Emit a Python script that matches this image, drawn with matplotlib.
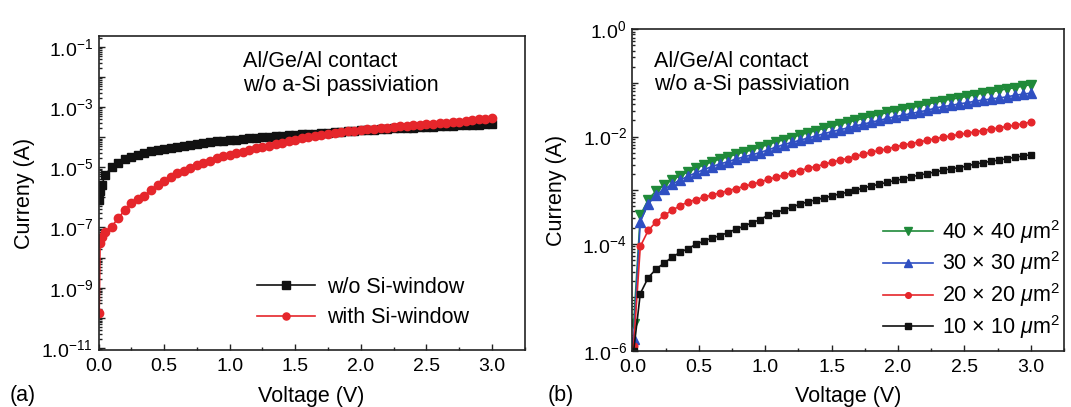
import numpy as np
import matplotlib
matplotlib.use("Agg")
import matplotlib.pyplot as plt
from matplotlib.ticker import FixedLocator, FuncFormatter, LogLocator, MultipleLocator

plt.rcParams["font.family"] = ["Liberation Sans", "DejaVu Sans"]
plt.rcParams["mathtext.fontset"] = "custom"
plt.rcParams["mathtext.rm"] = "Liberation Sans"
plt.rcParams["mathtext.it"] = "Liberation Sans:italic"
plt.rcParams["axes.unicode_minus"] = True

# ---- (a) Al/Ge/Al contact, with and without Si window ----
volt_a = [0.005, 0.012, 0.025, 0.05, 0.10, 0.15, 0.20, 0.25, 0.30, 0.35, 0.40, 0.45,
          0.50, 0.55, 0.60, 0.65, 0.70, 0.75, 0.80, 0.85, 0.90, 0.95, 1.00, 1.05,
          1.10, 1.15, 1.20, 1.25, 1.30, 1.35, 1.40, 1.45, 1.50, 1.55, 1.60, 1.65,
          1.70, 1.75, 1.80, 1.85, 1.90, 1.95, 2.00, 2.05, 2.10, 2.15, 2.20, 2.25,
          2.30, 2.35, 2.40, 2.45, 2.50, 2.55, 2.60, 2.65, 2.70, 2.75, 2.80, 2.85,
          2.90, 2.95, 3.00]
# log10 of current (A)
logi_no_window = [-6.10, -5.80, -5.60, -5.25, -5.00, -4.85, -4.74, -4.65, -4.58, -4.52,
                  -4.46, -4.41, -4.38, -4.35, -4.31, -4.28, -4.25, -4.23, -4.20, -4.17,
                  -4.14, -4.12, -4.10, -4.08, -4.06, -4.04, -4.02, -4.01, -3.99, -3.97,
                  -3.96, -3.94, -3.93, -3.91, -3.90, -3.88, -3.87, -3.86, -3.84, -3.82,
                  -3.80, -3.78, -3.77, -3.76, -3.75, -3.74, -3.72, -3.71, -3.70, -3.69,
                  -3.68, -3.67, -3.66, -3.65, -3.64, -3.63, -3.62, -3.61, -3.60, -3.59,
                  -3.58, -3.57, -3.56]
logi_window = [-9.85, -7.50, -7.30, -7.15, -6.97, -6.69, -6.42, -6.19, -6.05, -5.95,
               -5.76, -5.60, -5.47, -5.33, -5.20, -5.11, -5.03, -4.94, -4.86, -4.78,
               -4.70, -4.64, -4.59, -4.53, -4.48, -4.42, -4.37, -4.32, -4.28, -4.23,
               -4.18, -4.13, -4.09, -4.04, -4.00, -3.96, -3.92, -3.89, -3.87, -3.84,
               -3.81, -3.78, -3.76, -3.74, -3.72, -3.70, -3.68, -3.66, -3.64, -3.62,
               -3.60, -3.59, -3.57, -3.56, -3.54, -3.52, -3.50, -3.48, -3.45, -3.43,
               -3.41, -3.39, -3.37]

# ---- (b) contact size series ----
volt_b = [0.01, 0.06, 0.12, 0.18, 0.24, 0.30, 0.36, 0.42, 0.48, 0.54, 0.60, 0.66,
          0.72, 0.78, 0.84, 0.90, 0.96, 1.02, 1.08, 1.14, 1.20, 1.26, 1.32, 1.38,
          1.44, 1.50, 1.56, 1.62, 1.68, 1.74, 1.80, 1.86, 1.92, 1.98, 2.04, 2.10,
          2.16, 2.22, 2.28, 2.34, 2.40, 2.46, 2.52, 2.58, 2.64, 2.70, 2.76, 2.82,
          2.88, 2.94, 3.00]
logi_40 = [-5.50, -3.47, -3.175, -3.01, -2.90, -2.81, -2.73, -2.66, -2.59, -2.53,
           -2.47, -2.42, -2.38, -2.33, -2.29, -2.25, -2.20, -2.15, -2.10, -2.06,
           -2.02, -1.97, -1.93, -1.89, -1.85, -1.81, -1.77, -1.73, -1.70, -1.66,
           -1.62, -1.59, -1.55, -1.52, -1.49, -1.46, -1.43, -1.40, -1.36, -1.33,
           -1.30, -1.28, -1.25, -1.22, -1.19, -1.17, -1.14, -1.11, -1.09, -1.06,
           -1.03]
logi_30 = [-5.77, -3.59, -3.25, -3.09, -2.98, -2.89, -2.81, -2.74, -2.675, -2.615,
           -2.56, -2.51, -2.47, -2.42, -2.38, -2.34, -2.30, -2.25, -2.20, -2.15,
           -2.11, -2.07, -2.03, -1.99, -1.95, -1.91, -1.875, -1.84, -1.80, -1.77,
           -1.73, -1.70, -1.66, -1.63, -1.60, -1.57, -1.54, -1.51, -1.47, -1.44,
           -1.42, -1.39, -1.37, -1.34, -1.32, -1.30, -1.28, -1.26, -1.23, -1.21,
           -1.19]
logi_20 = [-5.90, -4.05, -3.75, -3.59, -3.47, -3.375, -3.29, -3.22, -3.175, -3.13,
           -3.09, -3.05, -3.01, -2.97, -2.93, -2.89, -2.85, -2.80, -2.76, -2.72,
           -2.68, -2.64, -2.59, -2.56, -2.52, -2.48, -2.44, -2.41, -2.37, -2.33,
           -2.29, -2.26, -2.23, -2.19, -2.16, -2.13, -2.10, -2.07, -2.04, -2.01,
           -1.99, -1.96, -1.94, -1.91, -1.89, -1.86, -1.84, -1.81, -1.79, -1.76,
           -1.73]
logi_10 = [-6.00, -4.93, -4.63, -4.47, -4.36, -4.25, -4.16, -4.09, -4.01, -3.95,
           -3.89, -3.85, -3.79, -3.73, -3.67, -3.61, -3.55, -3.47, -3.42, -3.37,
           -3.32, -3.26, -3.22, -3.18, -3.15, -3.11, -3.07, -3.04, -3.00, -2.96,
           -2.92, -2.89, -2.85, -2.82, -2.79, -2.75, -2.72, -2.69, -2.66, -2.63,
           -2.60, -2.58, -2.55, -2.51, -2.49, -2.46, -2.44, -2.41, -2.39, -2.36,
           -2.34]

size_labels = [r"40 $\times$ 40 $\mu$m$^2$", r"30 $\times$ 30 $\mu$m$^2$",
               r"20 $\times$ 20 $\mu$m$^2$", r"10 $\times$ 10 $\mu$m$^2$"]
size_colors = ["#1f8a3a", "#2f4fc2", "#e5262b", "#111111"]
size_markers = ["v", "^", "o", "s"]
size_msizes = [7, 7, 4.8, 5]

BLACK = "#111111"
RED = "#e5262b"
FS = 15.5


def decade_label(y, pos, keep):
    e = int(round(np.log10(y)))
    if e % 2 != keep:
        return ""
    return "1.0$^{%d}$" % e


def style_axes(ax, ylim, keep, label_x, label_y):
    ax.set_yscale("log")
    ax.set_xlim(0, 3.25)
    ax.set_ylim(*ylim)
    lo = int(np.floor(np.log10(ylim[0])))
    hi = int(np.ceil(np.log10(ylim[1])))
    ax.yaxis.set_major_locator(FixedLocator([10.0 ** e for e in range(lo, hi + 1)]))
    ax.yaxis.set_major_formatter(FuncFormatter(lambda y, p: decade_label(y, p, keep)))
    ax.yaxis.set_minor_locator(LogLocator(base=10, subs=np.arange(2, 10), numticks=50))
    ax.xaxis.set_major_locator(FixedLocator([0, 0.5, 1.0, 1.5, 2.0, 2.5, 3.0]))
    ax.xaxis.set_major_formatter(FuncFormatter(lambda x, p: "%.1f" % x))
    ax.xaxis.set_minor_locator(MultipleLocator(0.25))
    ax.tick_params(which="both", direction="in", top=False, right=False,
                   labelsize=14, width=1.0, color="#222222")
    ax.tick_params(which="major", length=4.5)
    ax.tick_params(which="minor", length=2.5)
    ax.tick_params(axis="x", pad=5.5)
    ax.tick_params(axis="y", pad=4)
    for s in ax.spines.values():
        s.set_linewidth(1.2)
        s.set_color("#222222")
    ax.set_xlabel("Voltage (V)", fontsize=FS)
    ax.set_ylabel("Curreny (A)", fontsize=FS)
    ax.xaxis.set_label_coords(0.5, label_y)
    ax.yaxis.set_label_coords(label_x, 0.5)


fig = plt.figure(figsize=(10.71, 4.07), dpi=100)
ax_a = fig.add_axes([0.092, 0.140, 0.398, 0.7715])
ax_b = fig.add_axes([0.5904, 0.1376, 0.4031, 0.7904])

# (a)
va = np.array(volt_a)
ax_a.plot(va, 10.0 ** np.array(logi_no_window), color=BLACK, marker="s", ms=6,
          lw=1.2, label="w/o Si-window")
ax_a.plot(va, 10.0 ** np.array(logi_window), color=RED, marker="o", ms=6,
          lw=1.2, label="with Si-window")
style_axes(ax_a, (10 ** -11.07, 10 ** -0.64), keep=1, label_x=-0.149, label_y=-0.113)
ax_a.text(0.339, 0.88, "Al/Ge/Al contact\nw/o a-Si passiviation", transform=ax_a.transAxes,
          fontsize=FS, ha="left", va="center", linespacing=1.15)
ax_a.legend(loc="center left", bbox_to_anchor=(0.372, 0.151), frameon=False,
            fontsize=FS, numpoints=1, handlelength=2.7, handletextpad=0.55,
            labelspacing=0.45, borderpad=0, borderaxespad=0, markerscale=0.85)

# (b)
vb = np.array(volt_b)
series_b = [logi_40, logi_30, logi_20, logi_10]
for vals, lab, c, m, ms in zip(series_b, size_labels, size_colors, size_markers, size_msizes):
    ax_b.plot(vb, 10.0 ** np.array(vals), color=c, marker=m, ms=ms, lw=1.2, label=lab)
style_axes(ax_b, (1e-6, 1.0), keep=0, label_x=-0.151, label_y=-0.108)
ax_b.text(0.05, 0.864, "Al/Ge/Al contact\nw/o a-Si passiviation", transform=ax_b.transAxes,
          fontsize=FS, ha="left", va="center", linespacing=1.15)
ax_b.legend(loc="center left", bbox_to_anchor=(0.5807, 0.2226), frameon=False,
            fontsize=FS, numpoints=1, handlelength=2.3, handletextpad=0.45,
            labelspacing=0.18, borderpad=0, borderaxespad=0, markerscale=0.85)

fig.text(10 / 1071, 1 - 401 / 407, "(a)", fontsize=FS, va="baseline", ha="left")
fig.text(548 / 1071, 1 - 401 / 407, "(b)", fontsize=FS, va="baseline", ha="left")

fig.savefig("out.png", dpi=100)
